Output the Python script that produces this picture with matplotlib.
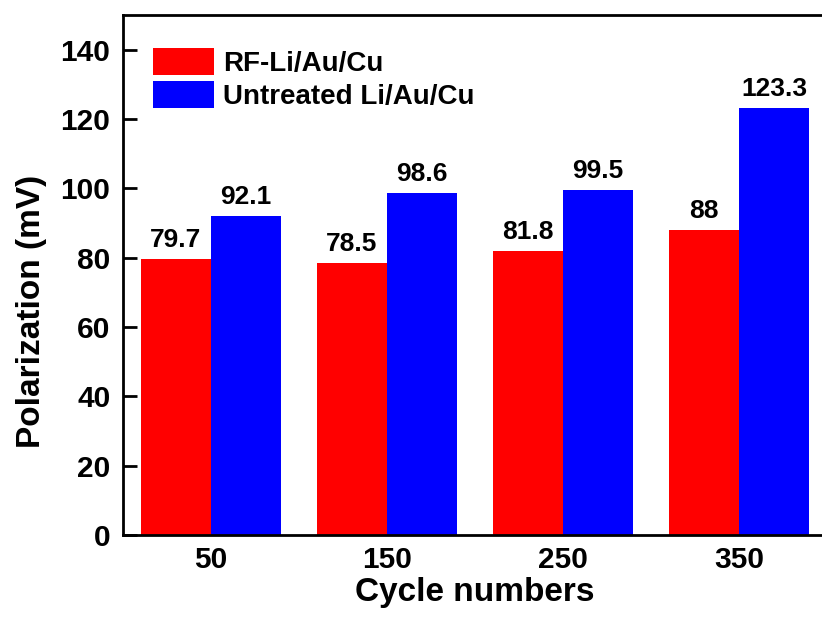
import matplotlib.pyplot as plt
import numpy as np

plt.rcParams['font.family'] = ['Liberation Sans', 'DejaVu Sans']
plt.rcParams['font.weight'] = 'bold'

cycles = [50, 150, 250, 350]
rf_vals = [79.7, 78.5, 81.8, 88]
untreated_vals = [92.1, 98.6, 99.5, 123.3]
rf_labels = ['79.7', '78.5', '81.8', '88']
untreated_labels = ['92.1', '98.6', '99.5', '123.3']

bar_w = 40
x = np.array(cycles)

fig = plt.figure(figsize=(8.22, 6.17), dpi=100)
ax = fig.add_axes([0.1496, 0.1329, 0.8564, 0.8428])

b1 = ax.bar(x - bar_w / 2, rf_vals, bar_w, color='#ff0000', label='RF-Li/Au/Cu')
b2 = ax.bar(x + bar_w / 2, untreated_vals, bar_w, color='#0000ff', label='Untreated Li/Au/Cu')
ax.bar_label(b1, labels=rf_labels, padding=5, fontsize=19, fontweight='bold')
ax.bar_label(b2, labels=untreated_labels, padding=5, fontsize=19, fontweight='bold')

ax.set_xlim(0, 400)
ax.set_ylim(0, 150)
ax.set_xticks(cycles)
ax.set_yticks(range(0, 141, 20))
ax.tick_params(axis='y', direction='in', length=10, width=2, pad=9, labelsize=21.5)
ax.tick_params(axis='x', length=0, pad=8, labelsize=21.5)
for s in ax.spines.values():
    s.set_linewidth(2)

ax.set_xlabel('Cycle numbers', fontsize=24, fontweight='bold', labelpad=2)
ax.set_ylabel('Polarization (mV)', fontsize=24, fontweight='bold')
ax.yaxis.set_label_coords(-0.108, 0.43)

ax.legend(loc='upper left', bbox_to_anchor=(30 / 704, 1 - 33 / 520), frameon=False,
          borderaxespad=0, borderpad=0, fontsize=20, handlelength=2.2, handleheight=1.1,
          labelspacing=0.15, handletextpad=0.32)

plt.savefig('out.png', dpi=100)
